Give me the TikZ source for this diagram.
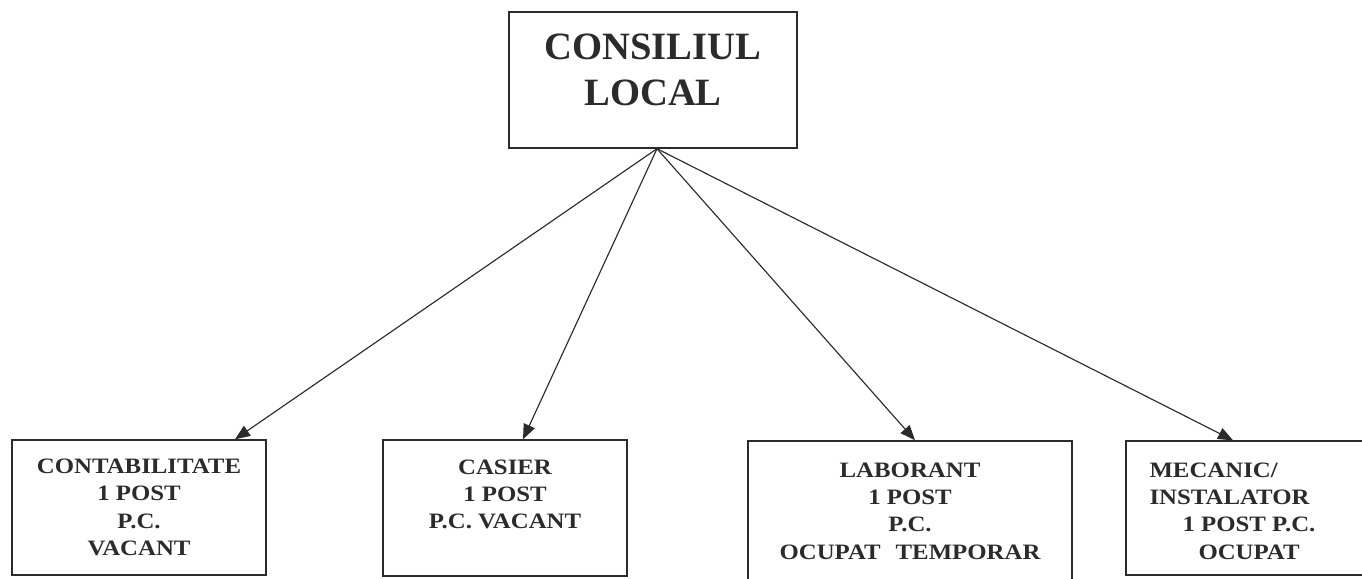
\documentclass[tikz,border=0pt]{standalone}
\usepackage{fontspec}
\setmainfont{Liberation Serif}
\newfontfamily\boxfont[FakeStretch=1.13]{Liberation Serif}
\usetikzlibrary{arrows.meta}
\definecolor{ink}{HTML}{2B2B2B}
\tikzset{
  frame/.style={draw=ink, line width=0.8pt, rectangle, inner sep=0pt},
  toptext/.style={text=ink, align=center, font=\fontsize{22}{26.5}\selectfont\bfseries},
  boxtext/.style={text=ink, align=center, font=\boxfont\fontsize{12.5}{15.5}\selectfont\bfseries},
  link/.style={draw=ink, line width=0.65pt, -{Triangle[length=0.3cm,width=0.24cm]}}
}
\begin{document}
\begin{tikzpicture}
        \useasboundingbox (0,0) rectangle (27.24,-11.58);
        \node[frame, minimum width=5.76cm, minimum height=2.72cm] (consiliul) at (13.06,-1.6) {};
        \node[toptext] (consiliultext) at ([yshift=0.2cm]consiliul.center) {CONSILIUL\\LOCAL};
        \node[frame, minimum width=5.08cm, minimum height=2.7cm] (contab) at (2.78,-10.15) {};
        \node[boxtext] (contabtext) at (contab.center) {CONTABILITATE\\1 POST\\P.C.\\VACANT};
        \node[frame, minimum width=4.88cm, minimum height=2.72cm] (casier) at (10.1,-10.16) {};
        \node[boxtext] (casiertext) at ([yshift=0.27cm]casier.center) {CASIER\\1 POST\\P.C. VACANT};
        \node[frame, minimum width=6.48cm, minimum height=2.88cm] (laborant) at (18.2,-10.26) {};
        \node[boxtext] (laboranttext) at ([yshift=0.04cm]laborant.center) {LABORANT\\1 POST\\P.C.\\OCUPAT\hspace{0.3cm}TEMPORAR};
        \node[frame, minimum width=4.88cm, minimum height=2.68cm] (mecanic) at (24.96,-10.16) {};
        \node[boxtext, align=left, anchor=west] (mecanictext) at ([xshift=0.36cm,yshift=-0.06cm]mecanic.west) {MECANIC/\\INSTALATOR\\\hspace*{0.66cm}1 POST P.C.\\\hspace*{0.98cm}OCUPAT};
        \coordinate (hub) at ([xshift=0.08cm]consiliul.south);
        \draw[link] (hub) -- ([xshift=1.92cm]contab.north);
        \draw[link] (hub) -- ([xshift=0.36cm]casier.north);
        \draw[link] (hub) -- ([xshift=0.1cm]laborant.north);
        \draw[link] (hub) -- ([xshift=-0.3cm]mecanic.north);
\end{tikzpicture}
\end{document}
